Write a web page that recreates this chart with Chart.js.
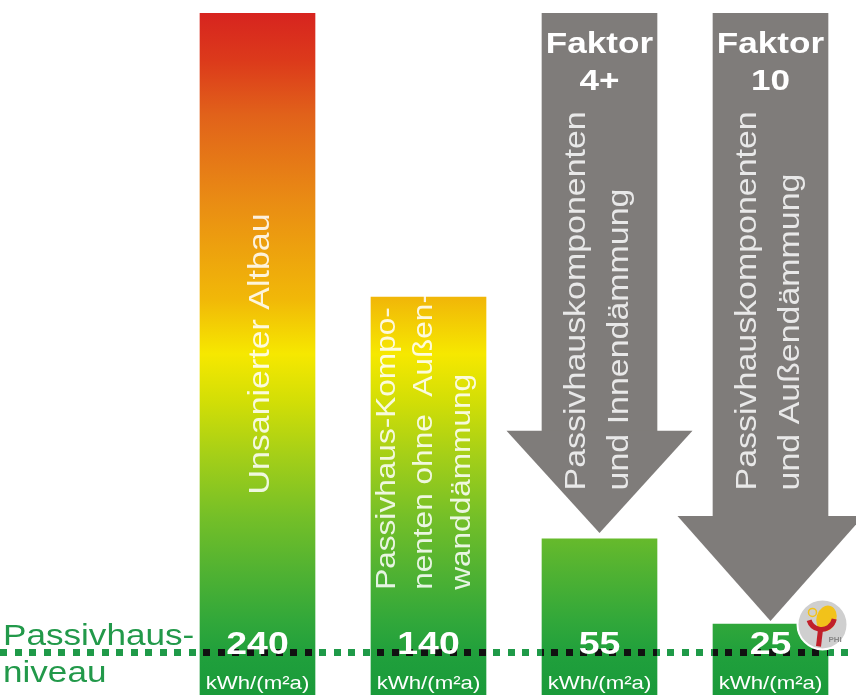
<!DOCTYPE html>
<html>
<head>
<meta charset="utf-8">
<script src="https://cdn.jsdelivr.net/npm/chart.js@4"></script>
<style>
  html, body { margin: 0; padding: 0; background: #fff; }
  canvas { display: block; }
</style>
</head>
<body>
<canvas id="chart" width="856" height="695"></canvas>
<script>
const categories = ["Unsanierter Altbau", "Passivhaus-Komponenten ohne Außenwanddämmung", "Faktor 4+", "Faktor 10"];
const demandValues = [240, 140, 55, 25];
const arrowStart = [null, null, 240, 240];
const arrowHeadStart = [null, null, 93, 63];
const arrowTip = [null, null, 57, 26];
const barLabels = [
  ["Unsanierter Altbau"],
  ["Passivhaus-Kompo-", "nenten ohne  Außen-", "wanddämmung"],
  ["Passivhauskomponenten", "und Innendämmung"],
  ["Passivhauskomponenten", "und Außendämmung"],
];
const factorLabels = [[], [], ["Faktor", "4+"], ["Faktor", "10"]];
const passivhausLevel = 15;
const passivhausLabel = ["Passivhaus-", "niveau"];
const unitLabel = "kWh/(m²a)";

const GRAY = "#7f7c7a";
const GREEN_TEXT = "#22994a";
const FONT = "'Liberation Sans', Arial, sans-serif";
const STRETCH = 1.17;

let gradCache = null;
function barGradient(c, area) {
  if (gradCache && gradCache.top === area.top && gradCache.bottom === area.bottom) return gradCache.g;
  const g = c.createLinearGradient(0, area.top, 0, area.bottom);
  const stops = [
    [0.00, "#d7241f"], [0.07, "#dc3a1b"], [0.15, "#e1621a"], [0.27, "#e98a14"],
    [0.42, "#f1b808"], [0.50, "#f6e800"], [0.57, "#d2de06"], [0.65, "#a4cf18"],
    [0.74, "#74bf28"], [0.82, "#50b232"], [0.89, "#32a83a"], [0.94, "#20a03c"], [1.00, "#1a9a3a"],
  ];
  stops.forEach(([o, col]) => g.addColorStop(o, col));
  gradCache = { top: area.top, bottom: area.bottom, g };
  return g;
}

function textAt(c, text, x, y, font, color, align, angle) {
  c.save();
  c.translate(x, y);
  if (angle) c.rotate(angle);
  c.scale(STRETCH, 1);
  c.font = font;
  c.fillStyle = color;
  c.textAlign = align;
  c.textBaseline = "alphabetic";
  c.fillText(text, 0, 0);
  c.restore();
}

const overlay = {
  id: "overlay",
  afterDatasetsDraw(chart) {
    const c = chart.ctx;
    const yScale = chart.scales.y;
    const bars = chart.getDatasetMeta(1).data;
    const lineY = yScale.getPixelForValue(passivhausLevel);

    // arrow heads
    c.save();
    c.fillStyle = GRAY;
    arrowTip.forEach((tip, i) => {
      if (tip == null) return;
      const x = bars[i].x;
      const yb = yScale.getPixelForValue(arrowHeadStart[i]);
      const yt = yScale.getPixelForValue(tip);
      c.beginPath();
      c.moveTo(x - 93, yb);
      c.lineTo(x + 93, yb);
      c.lineTo(x, yt);
      c.closePath();
      c.fill();
    });
    c.restore();

    // Passivhaus-Niveau dotted line: green on white, black on the bars
    const drawDots = (color) => {
      c.fillStyle = color;
      for (let x = 0; x < chart.width; x += 14.5) c.fillRect(Math.round(x), Math.round(lineY - 3.5), 7, 7);
    };
    c.save();
    drawDots("#1f9a48");
    c.beginPath();
    bars.forEach((b) => c.rect(b.x - b.width / 2, b.y, b.width, b.base - b.y));
    c.clip();
    drawDots("#111");
    c.restore();

    // rotated labels inside bars / arrows
    const light = "rgba(255,255,255,0.86)";
    const up = -Math.PI / 2;
    const midY = yScale.getPixelForValue(120);
    textAt(c, barLabels[0][0], bars[0].x + 11, midY, "300 29px " + FONT, light, "center", up);
    const b2 = yScale.getPixelForValue(37);
    [-34, 3, 41].forEach((dx, k) => textAt(c, barLabels[1][k], bars[1].x + dx, b2, "300 27px " + FONT, light, "left", up));
    const b3 = yScale.getPixelForValue(72);
    [2, 3].forEach((i) => {
      [-15, 28].forEach((dx, k) => textAt(c, barLabels[i][k], bars[i].x + dx, b3, "300 29px " + FONT, "#e8e8e8", "left", up));
      factorLabels[i].forEach((t, k) => textAt(c, t, bars[i].x, 53 + k * 37, "bold 30px " + FONT, "#fff", "center"));
    });

    // values and units
    bars.forEach((b, i) => {
      textAt(c, String(demandValues[i]), b.x, lineY + 2, "bold 32px " + FONT, "#fff", "center");
      textAt(c, unitLabel, b.x, lineY + 37, "19px " + FONT, "#fff", "center");
    });

    // left label
    textAt(c, passivhausLabel[0], 3, lineY - 7, "30px " + FONT, GREEN_TEXT, "left");
    textAt(c, passivhausLabel[1], 3, lineY + 30, "30px " + FONT, GREEN_TEXT, "left");

    // PHI logo
    const lx = bars[3].x + 52, ly = lineY - 28;
    c.save();
    c.beginPath();
    c.arc(lx, ly, 25, 0, Math.PI * 2);
    c.fillStyle = "#cfcfcf";
    c.fill();
    c.lineWidth = 2;
    c.strokeStyle = "#fff";
    c.stroke();
    c.beginPath();
    c.ellipse(lx + 4, ly - 6, 10, 13, 0.3, 0, Math.PI * 2);
    c.fillStyle = "#f2c21a";
    c.fill();
    c.beginPath();
    c.arc(lx - 1, ly - 8, 13, 0.2, Math.PI - 0.3);
    c.lineWidth = 5;
    c.strokeStyle = "#c0202a";
    c.stroke();
    c.beginPath();
    c.moveTo(lx - 2, ly + 5);
    c.lineTo(lx - 4, ly + 22);
    c.stroke();
    c.beginPath();
    c.arc(lx - 10, ly - 12, 4, 0, Math.PI * 2);
    c.lineWidth = 1.5;
    c.strokeStyle = "#f2c21a";
    c.stroke();
    c.font = "bold 8px " + FONT;
    c.fillStyle = "#888";
    c.fillText("PHI", lx + 6, ly + 18);
    c.restore();
  },
};

new Chart(document.getElementById("chart").getContext("2d"), {
  type: "bar",
  data: {
    labels: categories,
    datasets: [
      {
        label: "Einsparung",
        data: arrowStart.map((v, i) => (v == null ? null : [arrowHeadStart[i], v])),
        backgroundColor: GRAY,
      },
      {
        label: "Heizwärmebedarf",
        data: demandValues,
        backgroundColor: (ctx) => {
          const area = ctx.chart.chartArea;
          if (!area) return "#1a9a3a";
          return barGradient(ctx.chart.ctx, area);
        },
      },
    ],
  },
  options: {
    responsive: false,
    animation: false,
    layout: { padding: { left: 172, right: -4, top: 13, bottom: 0 } },
    datasets: { bar: { barThickness: 115, grouped: false, borderWidth: 0 } },
    scales: {
      x: { display: false },
      y: { display: false, min: 0, max: 240 },
    },
    plugins: {
      legend: { display: false },
      tooltip: { enabled: false },
    },
  },
  plugins: [overlay],
});
</script>
</body>
</html>
